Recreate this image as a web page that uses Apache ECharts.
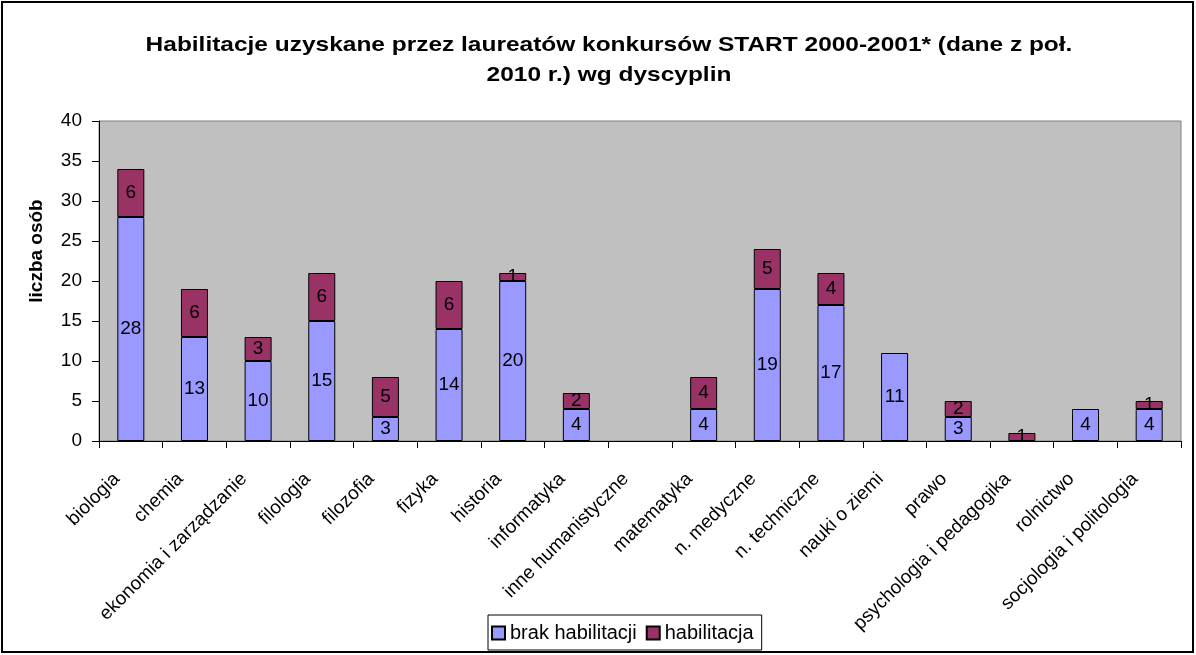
<!DOCTYPE html>
<html>
<head>
<meta charset="utf-8">
<script src="https://cdn.jsdelivr.net/npm/echarts@6/dist/echarts.min.js"></script>
<style>
  html, body { margin: 0; padding: 0; background: #fff; }
  #chart { width: 1196px; height: 655px; }
</style>
</head>
<body>
<div id="chart"></div>
<script>
// dane
const categories = [
  "biologia", "chemia", "ekonomia i zarządzanie", "filologia", "filozofia",
  "fizyka", "historia", "informatyka", "inne humanistyczne", "matematyka",
  "n. medyczne", "n. techniczne", "nauki o ziemi", "prawo",
  "psychologia i pedagogika", "rolnictwo", "socjologia i politologia"
];
const brakHabilitacji = [28, 13, 10, 15, 3, 14, 20, 4, 0, 4, 19, 17, 11, 3, 0, 4, 4];
const habilitacja = [6, 6, 3, 6, 5, 6, 1, 2, 0, 4, 5, 4, 0, 2, 1, 0, 1];
const yTicks = [0, 5, 10, 15, 20, 25, 30, 35, 40];
const titleText = "Habilitacje uzyskane przez laureatów konkursów START 2000-2001* (dane z poł.\n2010 r.) wg dyscyplin";

const font = "Liberation Sans, Arial, sans-serif";

const chart = echarts.init(document.getElementById("chart"));

// zera nie rysują słupka
const noZero = arr => arr.map(v => (v === 0 ? null : v));

const labelOpt = {
  show: true,
  position: "inside",
  color: "#000",
  fontSize: 19,
  fontFamily: font
};

chart.setOption({
  animation: false,
  graphic: [
    {
      type: "rect",
      shape: { x: 2, y: 2, width: 1191, height: 650 },
      style: { fill: "none", stroke: "#000", lineWidth: 2 },
      silent: true,
      z: -1
    },
    {
      // tytuł rozciągnięty w poziomie jak w oryginale
      type: "text",
      x: 609,
      y: 60,
      scaleX: 1.165,
      silent: true,
      style: {
        text: titleText,
        font: "bold 21px Liberation Sans, Arial, sans-serif",
        fill: "#000",
        align: "center",
        verticalAlign: "middle",
        lineHeight: 30
      }
    }
  ],
  legend: {
    data: ["brak habilitacji", "habilitacja"],
    icon: "rect",
    left: 488,
    top: 615,
    itemWidth: 13,
    itemHeight: 13,
    itemGap: 9,
    padding: [8, 8, 7, 3],
    borderColor: "#000",
    borderWidth: 1,
    textStyle: { fontFamily: font, fontSize: 20, color: "#000" }
  },
  grid: {
    left: 99,
    right: 15,
    top: 121,
    bottom: 214,
    show: true,
    backgroundColor: "#C0C0C0",
    borderColor: "#808080",
    borderWidth: 1
  },
  xAxis: {
    type: "category",
    data: categories,
    axisLine: { lineStyle: { color: "#000", width: 1 } },
    axisTick: { show: true, length: 7, lineStyle: { color: "#000" } },
    axisLabel: {
      interval: 0,
      rotate: 45,
      margin: 21,
      padding: [0, 20, 0, 0],
      fontFamily: font,
      fontSize: 19,
      color: "#000"
    }
  },
  yAxis: {
    type: "value",
    min: yTicks[0],
    max: yTicks[yTicks.length - 1],
    interval: 5,
    name: "liczba osób",
    nameLocation: "middle",
    nameGap: 53,
    nameTextStyle: {
      fontFamily: font,
      fontSize: 19,
      fontWeight: "bold",
      color: "#000",
      padding: [0, 0, 0, 60]
    },
    axisLine: { show: true, lineStyle: { color: "#000" } },
    axisTick: { show: true, length: 7, lineStyle: { color: "#000" } },
    splitLine: { show: false },
    axisLabel: { fontFamily: font, fontSize: 19, color: "#000", margin: 17 }
  },
  series: [
    {
      name: "brak habilitacji",
      type: "bar",
      stack: "total",
      data: noZero(brakHabilitacji),
      barWidth: 27,
      itemStyle: { color: "#9999FF", borderColor: "#000", borderWidth: 1 },
      label: labelOpt
    },
    {
      name: "habilitacja",
      type: "bar",
      stack: "total",
      data: noZero(habilitacja),
      barWidth: 27,
      itemStyle: { color: "#993366", borderColor: "#000", borderWidth: 1 },
      label: labelOpt
    }
  ]
});
</script>
</body>
</html>
